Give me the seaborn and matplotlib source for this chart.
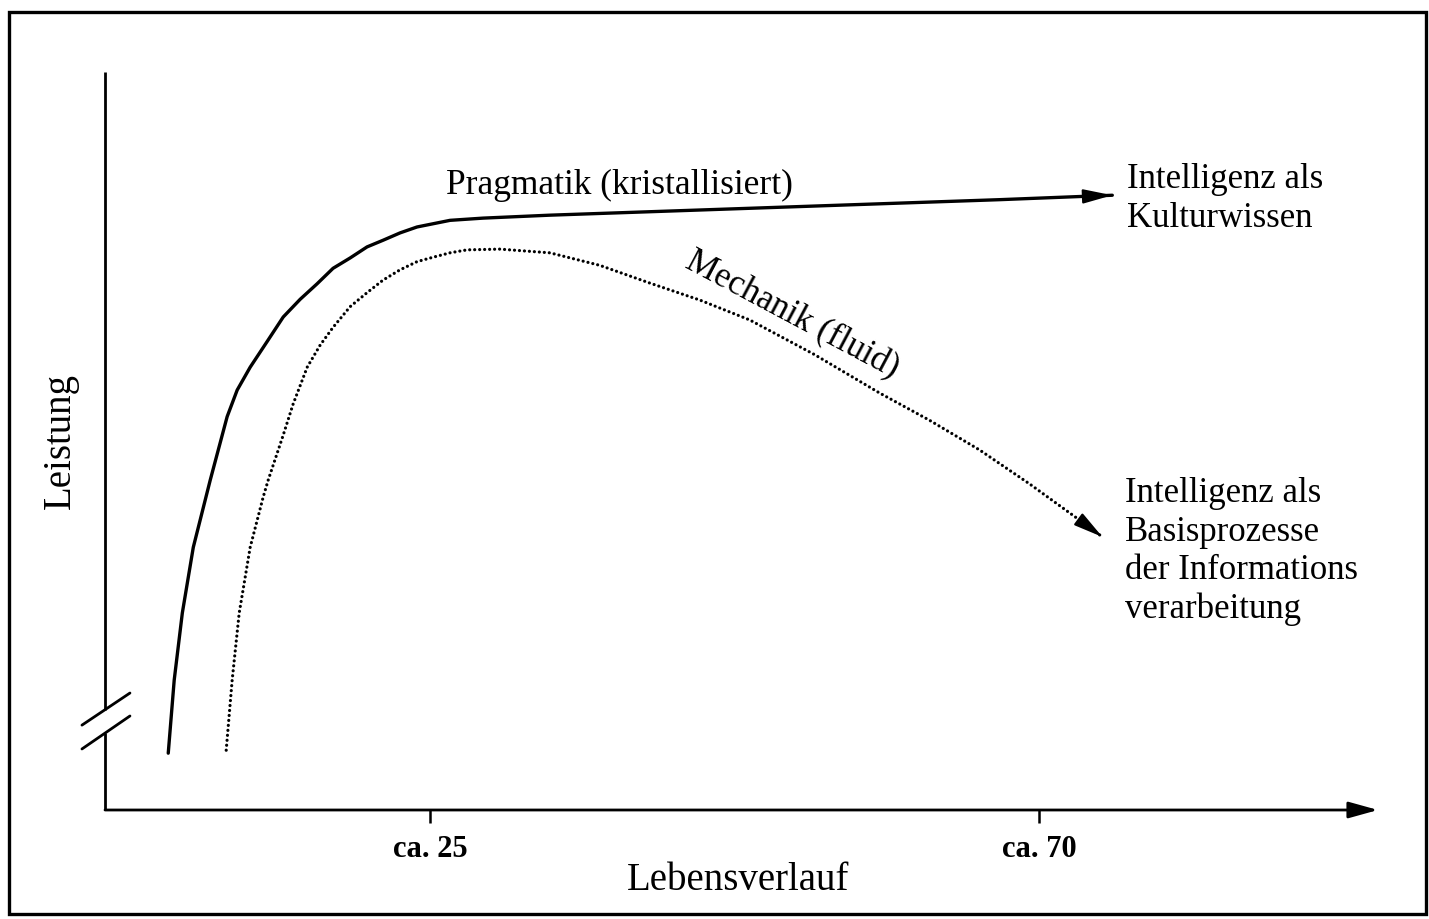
import numpy as np
import pandas as pd
import matplotlib
matplotlib.use("Agg")
import matplotlib.pyplot as plt
import seaborn as sns

# ---- data (conceptual: age in years, performance in arbitrary units) ----
prag_age = [5.67, 6.11, 6.71, 7.52, 8.77, 10.02, 10.76, 11.72, 12.98,
            14.16, 15.41, 16.66, 17.84, 19.10, 20.35, 21.53, 22.79, 24.04, 26.48,
            28.91, 33.85, 44.92, 55.98, 67.05, 75.38]
prag_perf = [7.7, 17.6, 26.7, 35.6, 44.7, 53.3, 56.9, 60.0, 63.5,
             66.8, 69.2, 71.3, 73.4, 74.8, 76.3, 77.2, 78.2, 79.0, 79.9,
             80.2, 80.6, 81.3, 82.0, 82.7, 83.3]

mech_age = [9.95, 10.39, 10.91, 11.72, 12.68, 13.05, 14.16, 14.89, 15.93,
            16.89, 17.84, 19.10, 20.35, 21.53, 22.79, 24.04, 25.22, 26.48, 27.73,
            30.16, 33.85, 37.54, 41.23, 44.92, 48.61, 53.40, 58.20, 61.89, 65.57,
            69.26, 72.95, 74.65]
mech_perf = [8.1, 17.6, 26.7, 35.6, 42.4, 44.7, 50.8, 55.0, 60.0,
             63.0, 65.4, 68.2, 70.1, 71.8, 73.2, 74.3, 74.9, 75.5, 75.9,
             76.0, 75.5, 73.8, 71.4, 69.1, 66.4, 61.7, 56.5, 52.8, 48.8,
             44.2, 39.3, 37.0]

tick_values = [25, 70]
tick_labels = ["ca. 25", "ca. 70"]

label_prag = "Pragmatik (kristallisiert)"
label_mech = "Mechanik (fluid)"
end_prag = "Intelligenz als\nKulturwissen"
end_mech = "Intelligenz als\nBasisprozesse\nder Informations\nverarbeitung"
x_title = "Lebensverlauf"
y_title = "Leistung"

sns.set_theme(style="ticks")
plt.rcParams["font.family"] = ["Liberation Serif", "DejaVu Serif"]

W, H = 1429, 919
fig = plt.figure(figsize=(W / 100, H / 100), dpi=100)
fig.patch.set_facecolor("white")

# outer frame
fig.add_artist(plt.Rectangle((9 / W, 5 / H), 1417 / W, 902 / H, transform=fig.transFigure,
                             fill=False, edgecolor="black", linewidth=2.4))

ax = fig.add_axes([105 / W, (H - 810) / H, 1273 / W, 738 / H])
ax.set_facecolor("none")
ax.set_xlim(1, 95)
ax.set_ylim(0, 100)
for s in ax.spines.values():
    s.set_visible(False)

df_p = pd.DataFrame({"age": prag_age, "perf": prag_perf})
df_m = pd.DataFrame({"age": mech_age, "perf": mech_perf})

sns.lineplot(data=df_p, x="age", y="perf", sort=False, estimator=None, ax=ax,
             color="black", linewidth=2.4, solid_joinstyle="round")
sns.lineplot(data=df_m, x="age", y="perf", sort=False, estimator=None, ax=ax,
             color="black", linewidth=2.3, linestyle=(0, (0.01, 1.55)),
             dash_capstyle="round")

# arrowheads at curve ends
def head(xs, ys):
    x1, y1 = xs[-1], ys[-1]
    x0, y0 = xs[-2], ys[-2]
    t = 0.3
    ax.annotate("", xy=(x1, y1), xytext=(x1 - t * (x1 - x0), y1 - t * (y1 - y0)),
                arrowprops=dict(arrowstyle="-|>,head_length=0.9,head_width=0.22",
                                color="black", lw=1.5, mutation_scale=20,
                                shrinkA=0, shrinkB=0))

head(prag_age, prag_perf)
head(mech_age, mech_perf)

# x axis with arrow
ax.annotate("", xy=(1.0, 0.0), xytext=(0.0, 0.0), xycoords="axes fraction",
            textcoords="axes fraction",
            arrowprops=dict(arrowstyle="-|>,head_length=0.9,head_width=0.25",
                            color="black", lw=2.0, mutation_scale=20,
                            shrinkA=0, shrinkB=0))

# y axis with break
tr = ax.transAxes
ax.plot([0, 0], [0.1355, 1.0], transform=tr, color="black", lw=2.0, clip_on=False,
        solid_capstyle="butt")
ax.plot([0, 0], [0.0, 0.104], transform=tr, color="black", lw=2.0, clip_on=False,
        solid_capstyle="butt")
ax.plot([-0.0181, 0.0196], [0.115, 0.1585], transform=tr, color="black", lw=2.0,
        clip_on=False)
ax.plot([-0.0181, 0.0196], [0.0827, 0.1274], transform=tr, color="black", lw=2.0,
        clip_on=False)

# ticks
ax.set_yticks([])
ax.set_xticks(tick_values)
ax.set_xticklabels(tick_labels, fontsize=22, fontweight="bold")
ax.tick_params(axis="x", direction="out", length=9, width=1.8, pad=9,
               color="black", bottom=True, labelcolor="black")

ax.set_xlabel(x_title, fontsize=28, color="black")
ax.xaxis.set_label_coords(0.497, -0.095)
ax.xaxis.label.set_va("center")
ax.set_ylabel(y_title, fontsize=28, color="black")
ax.yaxis.set_label_coords(-0.0354, 0.5)
ax.yaxis.label.set_va("center")
ax.yaxis.label.set_ha("center")

# annotations
ax.text(39.0, 84.6, label_prag, fontsize=25.5, ha="center", va="center", color="black")
ax.text(51.7, 67.1, label_mech, fontsize=25, ha="center", va="center", rotation=-28,
        rotation_mode="anchor", color="black")
ax.text(76.5, 82.8, end_prag, fontsize=25, ha="left", va="center", linespacing=1.22,
        color="black", clip_on=False)
ax.text(76.3, 35.0, end_mech, fontsize=25, ha="left", va="center", linespacing=1.22,
        color="black", clip_on=False)

fig.savefig("out.png", dpi=100)
